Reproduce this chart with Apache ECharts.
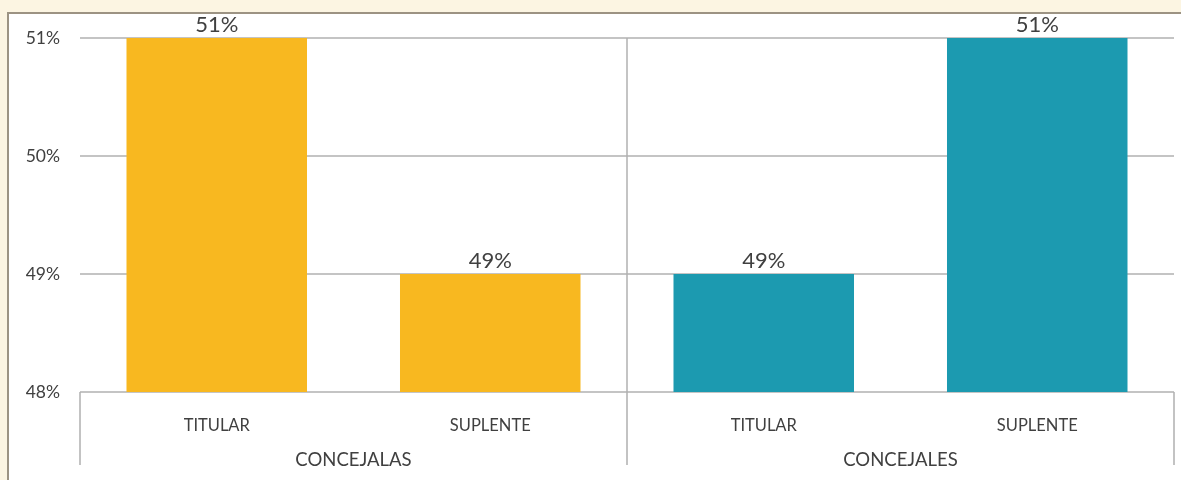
<!DOCTYPE html>
<html>
<head>
<meta charset="utf-8">
<script src="https://cdn.jsdelivr.net/npm/echarts@6/dist/echarts.min.js"></script>
<style>
  html, body { margin: 0; padding: 0; background: #fcf5e2; width: 1181px; height: 480px; overflow: hidden; }
  #panel { position: absolute; left: 7px; top: 12px; width: 1174px; height: 468px; background: #ffffff;
           border-top: 2px solid #9c9383; border-left: 2px solid #9c9383; box-sizing: border-box; }
  #chart { position: absolute; left: 0; top: 0; width: 1181px; height: 480px; }
</style>
</head>
<body>
<div id="panel"></div>
<div id="chart"></div>
<script>
const categories = ['TITULAR', 'SUPLENTE', 'TITULAR', 'SUPLENTE'];
const groups = ['CONCEJALAS', 'CONCEJALES'];
const values = [51, 49, 49, 51];
const yTicks = { min: 48, max: 51, interval: 1 };

const barColors = ['#f8b820', '#f8b820', '#1c9ab0', '#1c9ab0'];
const FONT = 'Lato, "Open Sans", sans-serif';
const TEXT = '#404040';
const LINE = '#b0b0b0';

const chart = echarts.init(document.getElementById('chart'), null, { renderer: 'canvas' });
chart.setOption({
  backgroundColor: 'transparent',
  animation: false,
  grid: { left: 80, right: 7, top: 38, bottom: 88, containLabel: false },
  xAxis: [
    {
      type: 'category',
      data: categories,
      position: 'bottom',
      axisLine: { show: false },
      axisTick: { show: false },
      splitLine: { show: false },
      axisLabel: { margin: 25, fontSize: 16.5, color: TEXT, fontFamily: FONT }
    },
    {
      type: 'category',
      data: groups,
      position: 'bottom',
      axisLine: { show: false },
      axisTick: { show: true, length: 73, lineStyle: { color: LINE, width: 1.5 } },
      splitLine: { show: true, showMinLine: false, showMaxLine: false, lineStyle: { color: LINE, width: 1.5 } },
      axisLabel: { margin: 59, fontSize: 18.5, color: TEXT, fontFamily: FONT }
    }
  ],
  yAxis: {
    type: 'value',
    min: yTicks.min, max: yTicks.max, interval: yTicks.interval,
    axisLine: { show: false },
    axisTick: { show: false },
    splitLine: { show: true, lineStyle: { color: LINE, width: 1.5 } },
    axisLabel: { margin: 20, fontSize: 17.5, color: TEXT, fontFamily: FONT, formatter: '{value}%' }
  },
  series: [{
    type: 'bar',
    xAxisIndex: 0,
    barWidth: '66%',
    data: values.map((v, i) => ({ value: v, itemStyle: { color: barColors[i] } })),
    label: { show: true, position: 'top', distance: 2, fontSize: 22, color: TEXT, fontFamily: FONT, formatter: '{c}%' }
  }]
});
</script>
</body>
</html>
